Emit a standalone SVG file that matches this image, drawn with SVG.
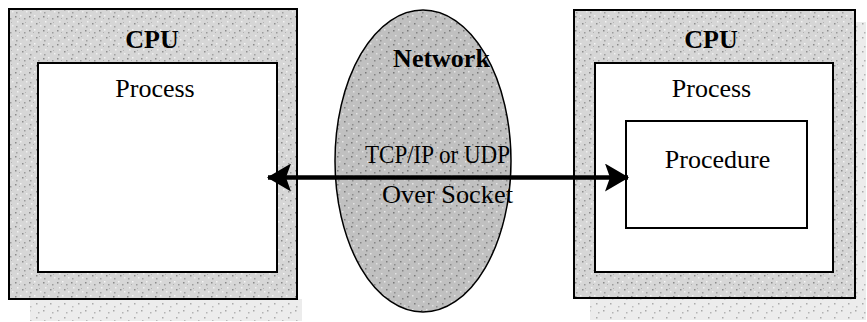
<svg xmlns="http://www.w3.org/2000/svg" width="867" height="322" viewBox="0 0 867 322">
<defs>
<pattern id="speck" width="14" height="14" patternUnits="userSpaceOnUse">
<rect width="14" height="14" fill="#d6d6d6"/>
<rect x="1" y="2" width="1.5" height="1.5" fill="#8a8a8a"/>
<rect x="6" y="1" width="1.5" height="1.5" fill="#f4f4f4"/>
<rect x="10" y="4" width="1.5" height="1.5" fill="#9a9a9a"/>
<rect x="3" y="7" width="1.5" height="1.5" fill="#f2f2f2"/>
<rect x="8" y="9" width="1.5" height="1.5" fill="#8e8e8e"/>
<rect x="12" y="11" width="1.5" height="1.5" fill="#f0f0f0"/>
<rect x="2" y="12" width="1.5" height="1.5" fill="#a0a0a0"/>
<rect x="5" y="4" width="1" height="1" fill="#b0b0b0"/>
<rect x="11" y="8" width="1" height="1" fill="#b4b4b4"/>
</pattern>
<pattern id="speckDark" width="14" height="14" patternUnits="userSpaceOnUse">
<rect width="14" height="14" fill="#c0c0c0"/>
<rect x="1" y="2" width="1.5" height="1.5" fill="#777"/>
<rect x="6" y="1" width="1.5" height="1.5" fill="#e6e6e6"/>
<rect x="10" y="4" width="1.5" height="1.5" fill="#858585"/>
<rect x="3" y="7" width="1.5" height="1.5" fill="#e2e2e2"/>
<rect x="8" y="9" width="1.5" height="1.5" fill="#7c7c7c"/>
<rect x="12" y="11" width="1.5" height="1.5" fill="#e0e0e0"/>
<rect x="2" y="12" width="1.5" height="1.5" fill="#8c8c8c"/>
</pattern>
<pattern id="speckLight" width="14" height="14" patternUnits="userSpaceOnUse">
<rect width="14" height="14" fill="#ececec"/>
<rect x="1" y="2" width="1.5" height="1.5" fill="#a8a8a8"/>
<rect x="10" y="4" width="1.5" height="1.5" fill="#b4b4b4"/>
<rect x="8" y="9" width="1.5" height="1.5" fill="#aaaaaa"/>
<rect x="2" y="12" width="1.5" height="1.5" fill="#bcbcbc"/>
</pattern>
<style>
.shadow{fill:url(#speckLight);stroke:none}
.cpu{fill:url(#speck);stroke:#000;stroke-width:2}
.inner{fill:#fff;stroke:#000;stroke-width:2}
.net{fill:url(#speckDark);stroke:#000;stroke-width:1.5}
.t{font-family:"Liberation Serif","Times New Roman",serif;fill:#000;text-anchor:middle;font-size:26px}
.b{font-weight:bold}
.conn{stroke:#000;stroke-width:4.5;fill:none}
</style>
<marker id="ah" viewBox="0 0 24 28" refX="23" refY="14" markerWidth="24" markerHeight="28" orient="auto-start-reverse" markerUnits="userSpaceOnUse">
<path d="M0,0 L24,14 L0,28 L5,14 Z" fill="#000"/>
</marker>
</defs>
<g id="cpu-left">
<rect class="shadow" x="30" y="299" width="272" height="22"/>
<rect class="cpu" x="9" y="9" width="288" height="290"/>
<text class="t b" x="152" y="48" font-size="25">CPU</text>
<g id="process-left">
<rect class="inner" x="38" y="63" width="239" height="209"/>
<text class="t" x="155" y="97">Process</text>
</g>
</g>
<g id="network">
<ellipse class="net" cx="423" cy="161" rx="88" ry="151"/>
<text class="t b" x="441.5" y="67">Network</text>
<text class="t" x="437.5" y="163" textLength="145" lengthAdjust="spacingAndGlyphs">TCP/IP or UDP</text>
<text class="t" x="447.5" y="203" textLength="131" lengthAdjust="spacingAndGlyphs">Over Socket</text>
</g>
<g id="cpu-right">
<rect class="shadow" x="590" y="298" width="276" height="22"/>
<rect class="shadow" x="855" y="22" width="11" height="278"/>
<rect class="cpu" x="574" y="10" width="281" height="288"/>
<text class="t b" x="711" y="48" font-size="25">CPU</text>
<g id="process-right">
<rect class="inner" x="595" y="63" width="238" height="209"/>
<text class="t" x="711.5" y="97">Process</text>
</g>
<g id="procedure">
<rect class="inner" x="626" y="121" width="181" height="107" stroke-width="1.5"/>
<text class="t" x="717.5" y="168">Procedure</text>
</g>
</g>
<g id="connectors">
<line class="conn" x1="268" y1="177.5" x2="628" y2="177.5" marker-start="url(#ah)" marker-end="url(#ah)"/>
</g>
</svg>
